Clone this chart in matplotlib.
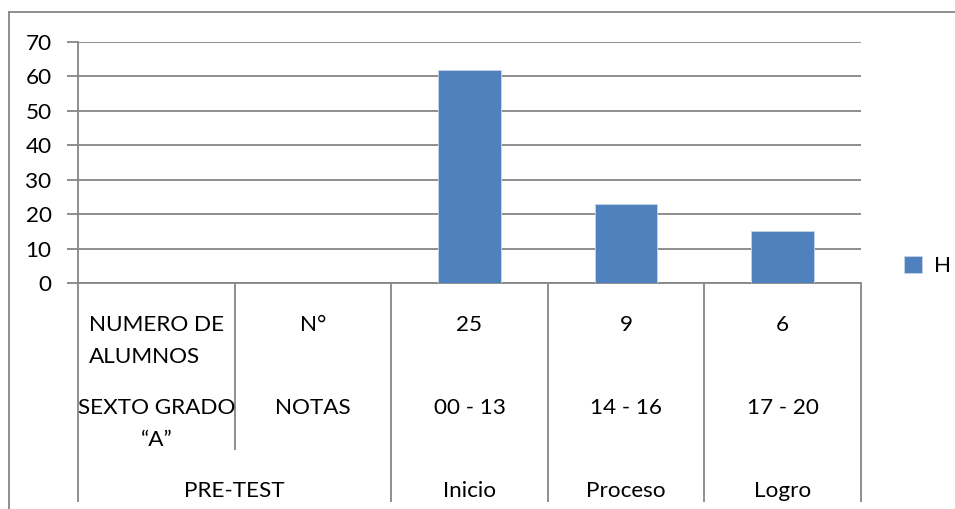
import numpy as np
import matplotlib.pyplot as plt
from matplotlib.lines import Line2D

plt.rcParams['font.family'] = ['Lato', 'DejaVu Sans']

# data
row1 = ["NUMERO DE\nALUMNOS", "N°", "25", "9", "6"]
row2 = ["SEXTO GRADO\n\u201cA\u201d", "NOTAS", "00 - 13", "14 - 16", "17 - 20"]
groups = ["PRE-TEST", "Inicio", "Proceso", "Logro"]
group_span = [2, 1, 1, 1]
values_h = [np.nan, np.nan, 62, 23, 15]
series_name = "H"

W, H = 955, 509
fig = plt.figure(figsize=(W / 100, H / 100), dpi=100)
L, R, T, B = 78, 861, 42, 283
ax = fig.add_axes([L / W, 1 - B / H, (R - L) / W, (B - T) / H])

grey = '#868686'
blue = '#4F81BD'
fs = 16.2

x = np.arange(len(row1))
ax.bar(x, values_h, width=0.4, color=blue, edgecolor='#c6d5ea', linewidth=0.6,
       label=series_name, zorder=3)

ax.set_xlim(-0.5, len(row1) - 0.5)
ax.set_ylim(0, 70)
ax.set_yticks(range(0, 71, 10))
ax.yaxis.grid(True, color=grey, linewidth=1.3)
ax.set_axisbelow(True)
ax.tick_params(axis='y', length=8, width=1.3, color=grey, pad=11, labelsize=fs)
ax.set_xticks([])
for s in ['top', 'right']:
    ax.spines[s].set_visible(False)
for s in ['left', 'bottom']:
    ax.spines[s].set_color(grey)
    ax.spines[s].set_linewidth(1.3)

tr = ax.get_xaxis_transform()
ph = B - T


def fy(ypix):
    return (B - ypix) / ph


# separators: inner ones stop after second row, group edges go to bottom
edges = np.concatenate([[0], np.cumsum(group_span)]) - 0.5
for e in np.arange(len(row1) + 1) - 0.5:
    bottom = 502 if np.any(np.isclose(edges, e)) else 450
    ax.plot([e, e], [0, fy(bottom)], transform=tr, color=grey, lw=1.3,
            clip_on=False, solid_capstyle='butt')

for i, lab in enumerate(row1):
    ax.text(i, fy(315), lab, transform=tr, ha='center', va='top', fontsize=fs,
            multialignment='left', linespacing=1.72)
for i, lab in enumerate(row2):
    ax.text(i, fy(398), lab, transform=tr, ha='center', va='top', fontsize=fs,
            multialignment='center', linespacing=1.72)
for g, lab in enumerate(groups):
    c = (edges[g] + edges[g + 1]) / 2
    ax.text(c, fy(491), lab, transform=tr, ha='center', va='center', fontsize=fs)

# outer chart frame
fig.add_artist(Line2D([9 / W, 9 / W], [0, 1 - 12 / H], color=grey, lw=1.3))
fig.add_artist(Line2D([9 / W, 1], [1 - 12 / H, 1 - 12 / H], color=grey, lw=1.3))

fig.legend(loc='center left', bbox_to_anchor=(884 / W, 1 - 266 / H), frameon=False,
           fontsize=fs, handlelength=0.8, handleheight=0.8, handletextpad=0.5)

fig.savefig('out.png', dpi=100)
